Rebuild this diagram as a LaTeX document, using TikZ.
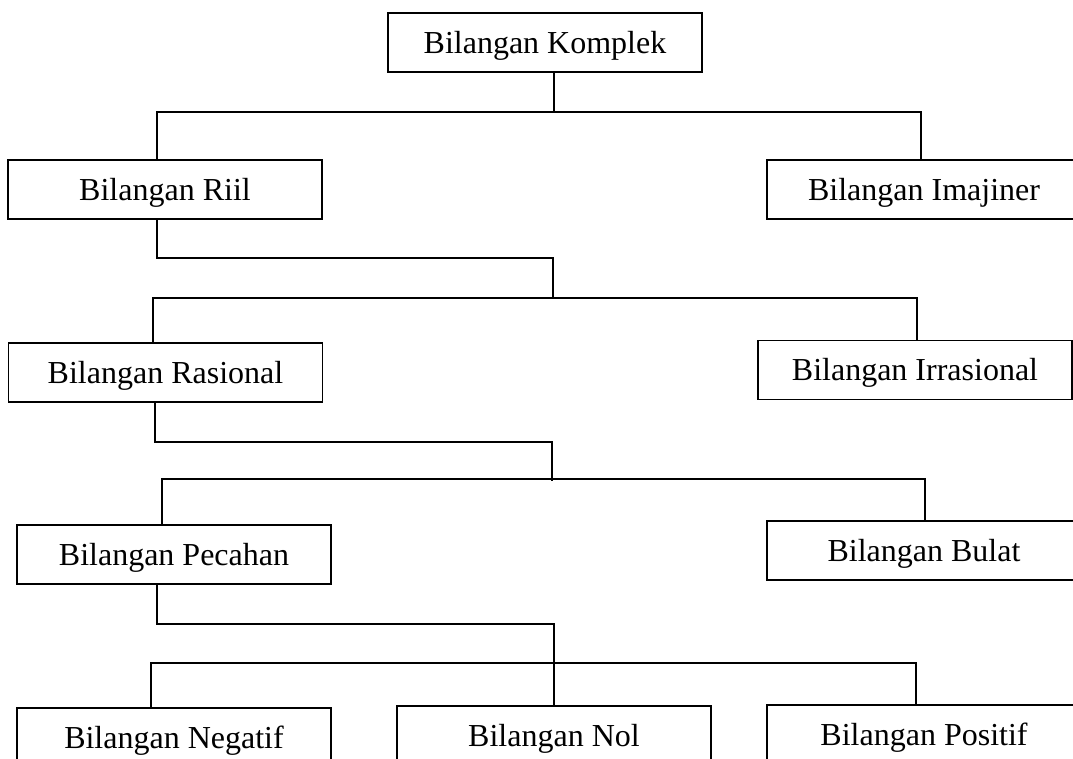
\documentclass[tikz,border=0pt]{standalone}
\usepackage{fontspec}
\setmainfont{Liberation Serif}
\usepackage{tikz}
\tikzstyle{kotak}=[draw,line width=1pt,rectangle,minimum width=235.5pt,minimum height=44.25pt,inner sep=0pt,text height=16.5pt,text depth=0.75pt,font=\fontsize{24}{28}\selectfont]
\tikzstyle{garis}=[draw,line width=0.8pt]

\begin{document}
\begin{tikzpicture}[x=0.75pt,y=-0.75pt]

    \useasboundingbox (0,0) rectangle (1073,758);
    \clip (0,0) rectangle (1073,758);

     \foreach \x/\y/\name/\teks in {545/42.5/komplek/Bilangan Komplek, 165/189.5/riil/Bilangan Riil, 924/189.5/imajiner/Bilangan Imajiner,
                                   165.5/372.5/rasional/Bilangan Rasional, 915/370/irrasional/Bilangan Irrasional,
                                   174/554.5/pecahan/Bilangan Pecahan, 924/550.5/bulat/Bilangan Bulat,
                                   174/737.5/negatif/Bilangan Negatif, 554/735.5/nol/Bilangan Nol, 924/734.5/positif/Bilangan Positif}
        \node[kotak] (\name) at (\x,\y) {\teks};

    % titik percabangan
    \coordinate (b1) at (554,112);
    \coordinate (b2) at (553,258);
    \coordinate (c2) at (553,298);
    \coordinate (b3) at (552,442);
    \coordinate (c3) at (552,479);
    \coordinate (b4) at (554,624);
    \coordinate (c4) at (554,663);

    \path[garis] ([xshift=6.75pt]komplek.south) -- (b1);
    \path[garis] ([xshift=-6pt]riil.north) |- (b1) -| ([xshift=-2.25pt]imajiner.north);

    \path[garis] ([xshift=-6pt]riil.south) |- (b2) -- (c2);
    \path[garis] ([xshift=-9.375pt]rasional.north) |- (c2) -| ([xshift=1.5pt]irrasional.north);

    \path[garis] ([xshift=-7.875pt]rasional.south) |- (b3) -- ([yshift=-1.5pt]c3);
    \path[garis] ([xshift=-9pt]pecahan.north) |- (c3) -| ([xshift=0.75pt]bulat.north);

    \path[garis] ([xshift=-12.75pt]pecahan.south) |- (b4) -- (nol.north);
    \path[garis] ([xshift=-17.25pt]negatif.north) |- (c4) -| ([xshift=-6pt]positif.north);

\end{tikzpicture}
\end{document}
